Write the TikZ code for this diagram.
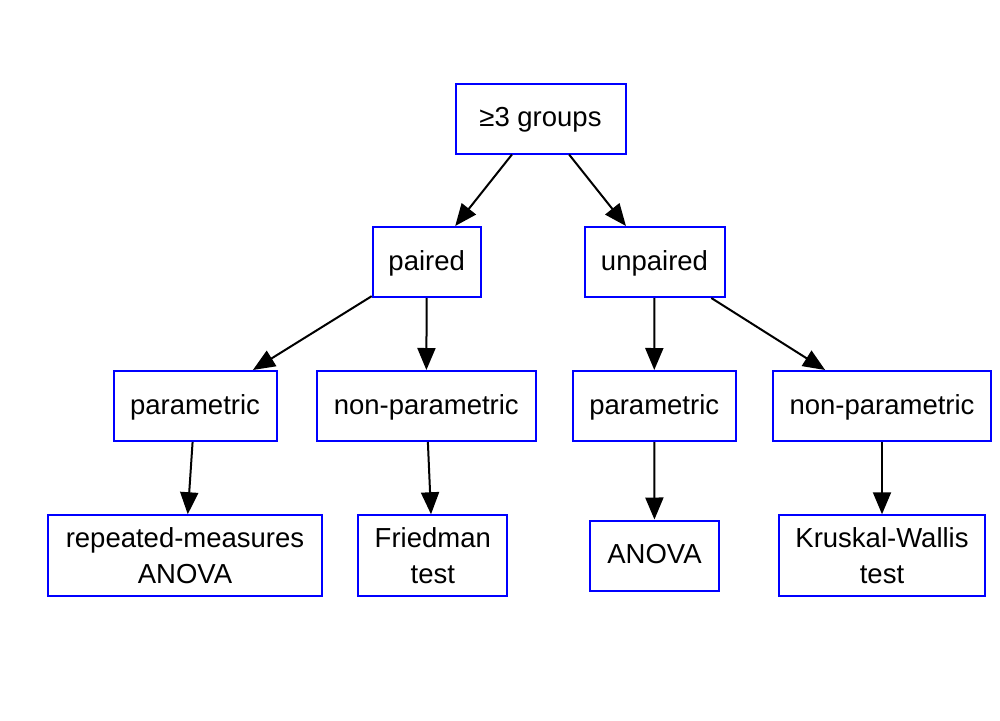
\documentclass[tikz,border=0pt]{standalone}
\usepackage{fontspec}
\setmainfont{Liberation Sans}
\usetikzlibrary{arrows.meta}
\definecolor{boxblue}{RGB}{0,0,255}
\tikzset{
  basebox/.style={draw=boxblue, line width=2pt, rectangle, inner sep=0pt, align=center,
    font=\fontsize{27.5}{35.5}\selectfont},
  box/.style={basebox, minimum height=70pt, text height=20.5pt, text depth=4.5pt},
  tallbox/.style={basebox, minimum height=80.5pt},
  arr/.style={line width=2pt, -{Triangle[length=22pt,width=18pt]}, black}
}
\begin{document}
\begin{tikzpicture}[x=1pt,y=-1pt]
\useasboundingbox (0,0) rectangle (1000,720);
\node[box, minimum width=170pt] (top) at (540.5,118.5) {≥3 groups};
\node[box, minimum width=108pt] (paired) at (426.7,262) {paired};
\node[box, minimum width=140pt] (unpaired) at (654.5,262) {unpaired};
\node[box, minimum width=163pt] (parL) at (195,406) {parametric};
\node[box, minimum width=218.6pt] (npL) at (426.3,406) {non-parametric};
\node[box, minimum width=163pt] (parR) at (654.2,406) {parametric};
\node[box, minimum width=218.6pt] (npR) at (882,406) {non-parametric};
\node[tallbox, minimum width=273.4pt] (rm) at (185,555.5) {repeated-measures\\ANOVA};
\node[tallbox, minimum width=149pt] (fr) at (432.8,555.5) {Friedman\\test};
\node[box, minimum width=129pt] (anova) at (654.5,555.5) {ANOVA};
\node[tallbox, minimum width=206.6pt] (kw) at (882,555.5) {Kruskal-Wallis\\test};
\draw[arr] (top) -- (paired);
\draw[arr] (top) -- (unpaired);
\draw[arr] (paired) -- (parL);
\draw[arr] (paired) -- (npL);
\draw[arr] (unpaired) -- (parR);
\draw[arr] (unpaired) -- (npR);
\draw[arr] (parL) -- (rm);
\draw[arr] (npL) -- (fr);
\draw[arr] (parR) -- (anova);
\draw[arr] (npR) -- (kw);
\end{tikzpicture}
\end{document}
